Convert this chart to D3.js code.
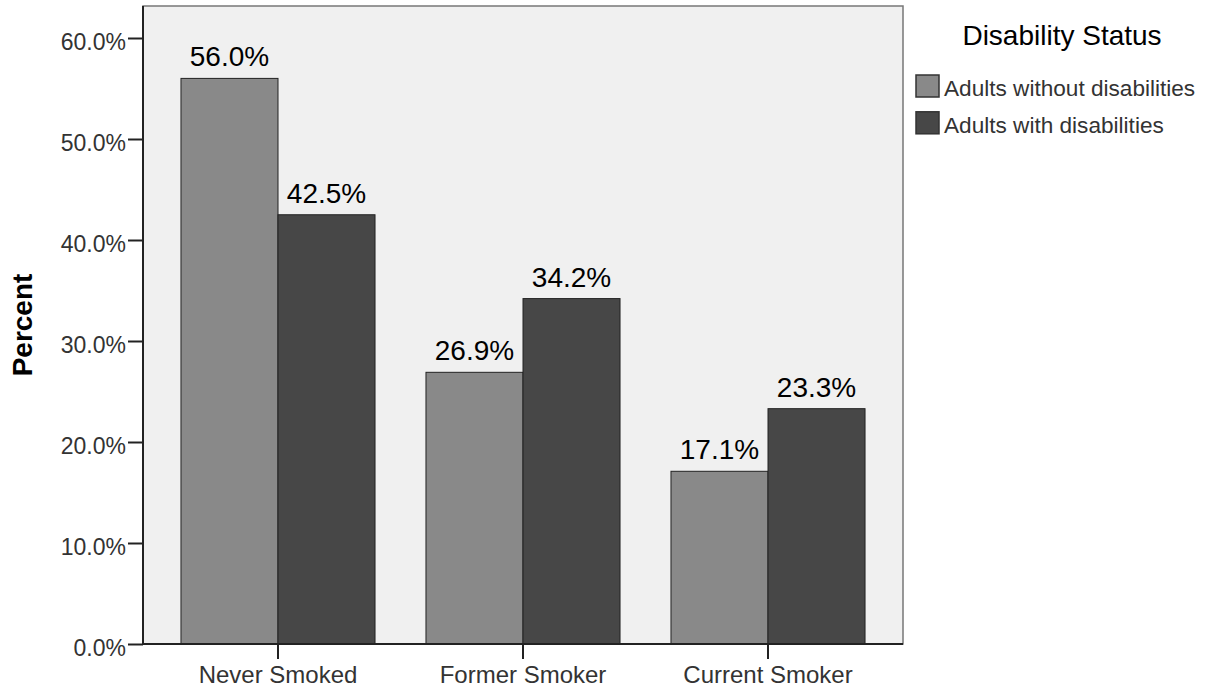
<!DOCTYPE html>
<html>
<head>
<meta charset="utf-8">
<script src="https://cdn.jsdelivr.net/npm/d3@7"></script>
<style>
  html, body { margin: 0; padding: 0; background: #fff; }
  svg { display: block; font-family: "Liberation Sans", Arial, sans-serif; }
</style>
</head>
<body>
<svg id="chart" width="1220" height="692"></svg>
<script>
const categories = ["Never Smoked", "Former Smoker", "Current Smoker"];
const seriesNames = ["Adults without disabilities", "Adults with disabilities"];
const withoutDisabilities = [56.0, 26.9, 17.1];
const withDisabilities = [42.5, 34.2, 23.3];
const yTicks = [0, 10, 20, 30, 40, 50, 60];
const seriesColors = ["#898989", "#474747"];

const svg = d3.select("#chart");
const plot = { left: 143, right: 903, top: 6, bottom: 644 };

const x = d3.scaleBand().domain(categories)
  .range([plot.left, plot.right]).paddingInner(0.208).paddingOuter(0.155);
const xs = d3.scaleBand().domain(seriesNames).range([0, x.bandwidth()]);
const y = d3.scaleLinear().domain([0, 60]).range([plot.bottom, 38]);

// plot background and frame
svg.append("rect")
  .attr("x", plot.left).attr("y", plot.top)
  .attr("width", plot.right - plot.left).attr("height", plot.bottom - plot.top)
  .attr("fill", "#f0f0f0").attr("stroke", "#777").attr("stroke-width", 1.5);

const data = categories.map((c, i) => ({
  cat: c,
  vals: [
    { s: seriesNames[0], v: withoutDisabilities[i], k: 0 },
    { s: seriesNames[1], v: withDisabilities[i], k: 1 }
  ]
}));

const g = svg.append("g").selectAll("g").data(data).join("g")
  .attr("transform", d => `translate(${x(d.cat)},0)`);

g.selectAll("rect").data(d => d.vals).join("rect")
  .attr("x", d => xs(d.s))
  .attr("y", d => y(d.v))
  .attr("width", xs.bandwidth())
  .attr("height", d => y(0) - y(d.v))
  .attr("fill", d => seriesColors[d.k])
  .attr("stroke", "#222").attr("stroke-width", 1);

g.selectAll("text").data(d => d.vals).join("text")
  .attr("x", d => xs(d.s) + xs.bandwidth() / 2)
  .attr("y", d => y(d.v) - 12)
  .attr("text-anchor", "middle")
  .attr("font-size", 28)
  .attr("fill", "#000")
  .text(d => d.v.toFixed(1) + "%");

// y axis
const yAxis = d3.axisLeft(y).tickValues(yTicks).tickSize(15).tickSizeOuter(0)
  .tickFormat(d => d.toFixed(1) + "%");
const ya = svg.append("g").attr("transform", `translate(${plot.left},0)`).call(yAxis);
ya.select(".domain").attr("stroke", "#222").attr("stroke-width", 2)
  .attr("d", `M0,${plot.top}V${plot.bottom}`);
ya.selectAll(".tick line").attr("stroke", "#222").attr("stroke-width", 2);
ya.selectAll(".tick text").attr("font-size", 23).attr("fill", "#333")
  .attr("font-family", "'Liberation Sans', Arial, sans-serif")
  .attr("x", -17).attr("dy", "0.5em");

// x axis
const xAxis = d3.axisBottom(x).tickSize(15).tickSizeOuter(0);
const xa = svg.append("g").attr("transform", `translate(0,${plot.bottom})`).call(xAxis);
xa.select(".domain").attr("stroke", "#222").attr("stroke-width", 2)
  .attr("d", `M${plot.left},0H${plot.right}`);
xa.selectAll(".tick line").attr("stroke", "#222").attr("stroke-width", 2);
xa.selectAll(".tick text").attr("font-size", 24).attr("fill", "#333")
  .attr("font-family", "'Liberation Sans', Arial, sans-serif")
  .attr("y", 22).attr("dy", "0.71em");

// y axis title
svg.append("text")
  .attr("transform", `translate(32,${(plot.top + plot.bottom) / 2}) rotate(-90)`)
  .attr("text-anchor", "middle")
  .attr("font-size", 28).attr("font-weight", "bold").attr("fill", "#000")
  .text("Percent");

// legend
svg.append("text")
  .attr("x", 1062).attr("y", 45)
  .attr("text-anchor", "middle")
  .attr("font-size", 28).attr("fill", "#000")
  .text("Disability Status");

const leg = svg.append("g").selectAll("g").data(seriesNames).join("g")
  .attr("transform", (d, i) => `translate(916,${75 + i * 36.8})`);
leg.append("rect")
  .attr("width", 23).attr("height", 22)
  .attr("fill", (d, i) => seriesColors[i])
  .attr("stroke", "#333").attr("stroke-width", 1.5);
leg.append("text")
  .attr("x", 28).attr("y", 21)
  .attr("font-size", 22.6).attr("fill", "#333")
  .text(d => d);
</script>
</body>
</html>
